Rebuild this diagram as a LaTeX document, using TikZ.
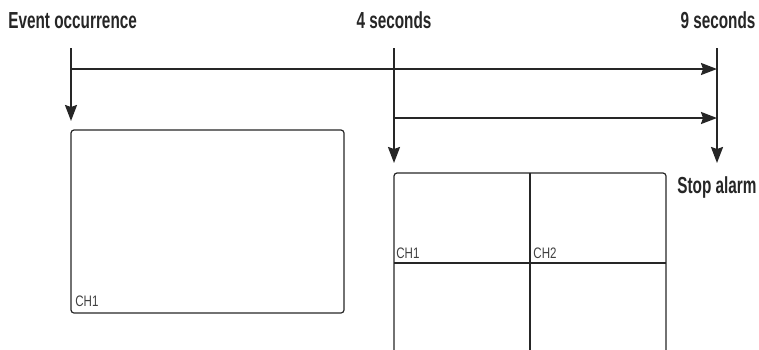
\documentclass[tikz,border=0pt]{standalone}
\usepackage{fontspec}
\usepackage{tikz}
\usetikzlibrary{arrows.meta}
\newfontfamily\lblfont[FakeStretch=0.66]{Liberation Sans}
\newfontfamily\chfont[FakeStretch=0.76]{Liberation Sans}

\begin{document}
\begin{tikzpicture}[
          x=0.5pt, y=-0.5pt,
          lbl/.style={font=\lblfont\bfseries\fontsize{11.6}{13}\selectfont, inner sep=0pt, text=black!85},
          ch/.style={font=\chfont\fontsize{7.6}{9}\selectfont, inner sep=0pt, text=black!75},
          arr/.style={-{Stealth[length=8pt, width=6pt, inset=1pt]}, line width=1pt, black!85},
          scr/.style={line width=0.6pt, black!85, rounded corners=1.5pt}
      ]
        \useasboundingbox (0,0) rectangle (759,349);
        \node[lbl, anchor=base west] (ev) at (8,28) {Event occurrence};
        \node[lbl, anchor=base] (four) at (394,28) {4 seconds};
        \node[lbl, anchor=base] (nine) at (718,28) {9 seconds};
        \node[lbl, anchor=base west] (stop) at (677,193) {Stop alarm};
        \coordinate (t1) at (71,48);
        \coordinate (t2) at (394,48);
        \coordinate (t3) at (717,48);
        \coordinate (d1) at (71,121);
        \coordinate (d2) at (394,163);
        \coordinate (d3) at (717,163);
        \coordinate (h1) at (71,69);
        \coordinate (h1e) at (717,69);
        \coordinate (h2) at (394,118);
        \coordinate (h2e) at (717,118);
        \draw[arr] (t1) -- (d1);
        \draw[arr] (t2) -- (d2);
        \draw[arr] (t3) -- (d3);
        \draw[arr] (h1) -- (h1e);
        \draw[arr] (h2) -- (h2e);
        \draw[scr] (71,130) rectangle (344,313);
        \node[ch, anchor=base west] (ch1a) at (75,306) {CH1};
        \draw[scr] (394,352) -- (394,173) -- (666,173) -- (666,352);
        \draw[line width=0.6pt, black!85] (530,173) -- (530,352);
        \draw[line width=0.6pt, black!85] (394,263) -- (666,263);
        \node[ch, anchor=base west] (ch1b) at (396,258) {CH1};
        \node[ch, anchor=base west] (ch2b) at (533,258) {CH2};
      \end{tikzpicture}
\end{document}
